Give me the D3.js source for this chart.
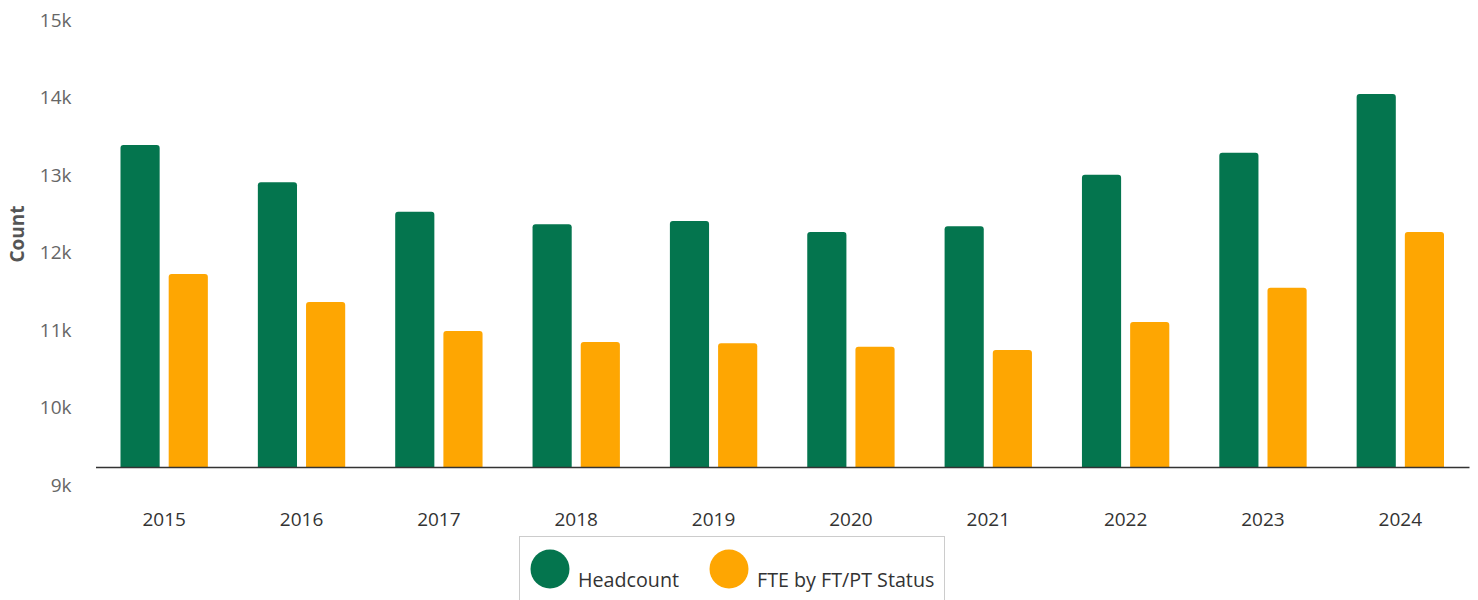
<!DOCTYPE html>
<html>
<head>
<meta charset="utf-8">
<script src="https://cdn.jsdelivr.net/npm/d3@7"></script>
<style>
  body { margin: 0; background: #fff; }
  svg { display: block; font-family: "Open Sans", sans-serif; }
</style>
</head>
<body>
<div id="chart"></div>
<script>
const years = ["2015", "2016", "2017", "2018", "2019", "2020", "2021", "2022", "2023", "2024"];
const headcount = [13155, 12674, 12294, 12132, 12174, 12032, 12106, 12772, 13055, 13813];
const fte = [11490, 11129, 10755, 10613, 10596, 10552, 10510, 10871, 11314, 12032];
const yTicks = [9000, 10000, 11000, 12000, 13000, 14000, 15000];
const seriesNames = ["Headcount", "FTE by FT/PT Status"];
const colors = ["#04754e", "#fea602"];

const width = 1478, height = 600;
const margin = { t: 2, l: 95.5, r: 9, b: 133 };

const svg = d3.select("#chart").append("svg")
  .attr("width", width)
  .attr("height", height);

const x = d3.scaleBand()
  .domain(years)
  .range([margin.l, width - margin.r])
  .padding(0);

const x1 = d3.scaleBand()
  .domain(seriesNames)
  .range([25, x.bandwidth() - 25])
  .paddingInner(9 / 48);

const y = d3.scaleLinear()
  .domain([9000, 15000])
  .range([height - margin.b, margin.t]);

const rows = years.map((yr, i) => ({ year: yr, values: [headcount[i], fte[i]] }));

// bar with rounded top corners
function barPath(x0, w, yTop, yBot, r) {
  return "M" + x0 + "," + yBot +
    "V" + (yTop + r) +
    "Q" + x0 + "," + yTop + " " + (x0 + r) + "," + yTop +
    "H" + (x0 + w - r) +
    "Q" + (x0 + w) + "," + yTop + " " + (x0 + w) + "," + (yTop + r) +
    "V" + yBot + "Z";
}

svg.append("g")
  .selectAll("g")
  .data(rows)
  .enter().append("g")
  .attr("transform", d => "translate(" + x(d.year) + ",0)")
  .selectAll("path")
  .data(d => d.values.map((v, j) => ({ key: seriesNames[j], value: v, c: colors[j] })))
  .enter().append("path")
  .attr("fill", d => d.c)
  .attr("d", d => barPath(x1(d.key), x1.bandwidth(), y(d.value), y(9000), 3));

// y axis labels (no line), placed a little below their tick
const yAxis = svg.append("g")
  .attr("transform", "translate(" + (margin.l - 24) + ",0)")
  .call(d3.axisLeft(y).tickValues(yTicks).tickFormat(d => d / 1000 + "k").tickSize(0).tickPadding(0));
yAxis.select(".domain").remove();
yAxis.selectAll("text")
  .attr("dy", "0.32em")
  .attr("y", 18)
  .attr("fill", "#666")
  .style("font-size", "19px")
  .style("font-family", "Open Sans");

// x axis
const xAxis = svg.append("g")
  .attr("transform", "translate(0," + y(9000) + ")")
  .call(d3.axisBottom(x).tickSize(0).tickPadding(46));
xAxis.select(".domain").attr("stroke", "#333").attr("stroke-width", 1.5);
xAxis.selectAll("text")
  .attr("fill", "#333")
  .style("font-size", "19px")
  .style("font-family", "Open Sans");

// y title
svg.append("text")
  .attr("transform", "translate(24,234) rotate(-90)")
  .attr("text-anchor", "middle")
  .attr("fill", "#555")
  .style("font-size", "19px")
  .style("font-weight", "bold")
  .text("Count");

// legend
const legend = svg.append("g");
legend.append("rect")
  .attr("x", 519.5).attr("y", 536.5)
  .attr("width", 425).attr("height", 80)
  .attr("fill", "#fff")
  .attr("stroke", "#ccc");

const legendX = [550, 729];
const items = legend.selectAll("g.item")
  .data(seriesNames)
  .enter().append("g")
  .attr("class", "item")
  .attr("transform", (d, i) => "translate(" + legendX[i] + ",569)");
items.append("circle")
  .attr("r", 19.5)
  .attr("fill", (d, i) => colors[i]);
items.append("text")
  .attr("x", 28)
  .attr("y", 18)
  .attr("fill", "#333")
  .style("font-size", "19.7px")
  .text(d => d);
</script>
</body>
</html>
